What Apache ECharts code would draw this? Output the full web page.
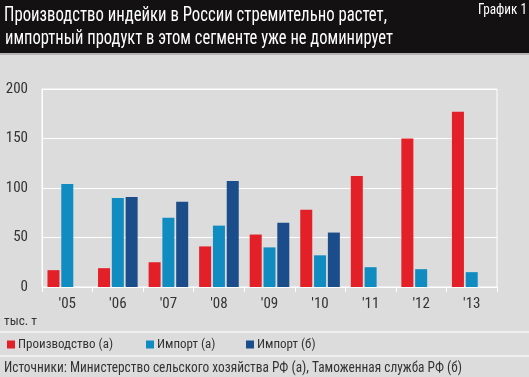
<!DOCTYPE html>
<html>
<head>
<meta charset="utf-8">
<script src="https://cdn.jsdelivr.net/npm/echarts@6/dist/echarts.min.js"></script>
<style>
  html, body { margin: 0; padding: 0; background: #dcdcdd; }
  #chart { width: 529px; height: 377px; }
</style>
</head>
<body>
<div id="chart"></div>
<script>
// данные графика (тыс. т)
var years = ["'05", "'06", "'07", "'08", "'09", "'10", "'11", "'12", "'13"];
var production = [17, 19, 25, 41, 53, 78, 112, 150, 177];
var importA = [104, 90, 70, 62, 40, 32, 20, 18, 15];
var importB = [null, 91, 86, 107, 65, 55, null, null, null];
var seriesNames = ['Производство (а)', 'Импорт (а)', 'Импорт (б)'];
var yTicks = [0, 50, 100, 150, 200];

var titleLines = [
  'Производство индейки в России стремительно растет,',
  'импортный продукт в этом сегменте уже не доминирует'
];
var sourceText = 'Источники: Министерство сельского хозяйства РФ (а), Таможенная служба РФ (б)';

var font = '"Roboto Condensed", "Roboto", sans-serif';
var colors = ['#e31f28', '#118cc0', '#1b4d8b'];

// сжатие текста по ширине (шрифт в оригинале уже, чем Roboto Condensed)
var measureCtx = document.createElement('canvas').getContext('2d');
function fitScale(text, size, width) {
  measureCtx.font = size + 'px "Roboto Condensed"';
  return width / measureCtx.measureText(text).width;
}
function label(text, x, y, size, width, color) {
  return {
    type: 'text',
    x: x,
    y: y,
    scaleX: fitScale(text, size, width),
    style: {
      text: text,
      x: 0,
      y: 0,
      fill: color,
      fontSize: size,
      fontFamily: font,
      verticalAlign: 'middle'
    }
  };
}

var myChart = echarts.init(document.getElementById('chart'));

var option = {
  backgroundColor: '#dcdcdd',
  color: colors,
  animation: false,
  textStyle: { fontFamily: font },
  graphic: [
    { type: 'rect', z: -1, shape: { x: 0, y: 0, width: 529, height: 53 }, style: { fill: '#131111' } },
    { type: 'rect', z: -1, shape: { x: 0, y: 53, width: 529, height: 2 }, style: { fill: '#b4b4b4' } },
    { type: 'rect', shape: { x: 0, y: 331, width: 529, height: 2 }, style: { fill: '#efefef' } },
    { type: 'rect', shape: { x: 0, y: 355, width: 529, height: 2 }, style: { fill: '#efefef' } },
    label(titleLines[0], 4, 16, 21, 383, '#ffffff'),
    label(titleLines[1], 5, 39, 21, 388, '#ffffff'),
    label('График 1', 478, 10, 14, 49, '#ffffff'),
    label('тыс. т', 4, 322, 13, 33, '#333333'),
    label(sourceText, 4, 368, 15, 458, '#333333')
  ],
  legend: [0, 1, 2].map(function (i) {
    var lefts = [2, 141, 241];
    return {
      data: [seriesNames[i]],
      left: lefts[i],
      top: 333,
      icon: 'rect',
      itemWidth: 8,
      itemHeight: 8,
      itemGap: 4,
      textStyle: { color: '#333', fontSize: 13, fontFamily: font, padding: [0, 0, 0, -2] }
    };
  }),
  grid: {
    left: 42,
    right: 32,
    top: 89,
    bottom: 90,
    show: true,
    borderColor: '#ffffff',
    borderWidth: 1
  },
  xAxis: {
    type: 'category',
    data: years,
    axisLine: { show: true, lineStyle: { color: '#fff', width: 1 } },
    axisTick: { show: true, length: 5, lineStyle: { color: '#fff' } },
    axisLabel: { color: '#333', fontSize: 15, margin: 10, fontFamily: font }
  },
  yAxis: {
    type: 'value',
    min: yTicks[0],
    max: yTicks[yTicks.length - 1],
    interval: 50,
    axisLine: { show: true, lineStyle: { color: '#fff' } },
    axisTick: { show: false },
    axisLabel: { color: '#333', fontSize: 15, margin: 14, fontFamily: font },
    splitLine: { show: true, lineStyle: { color: '#fff', width: 1 } }
  },
  series: [
    { name: seriesNames[0], type: 'bar', data: production, barWidth: 12, barGap: '15%' },
    { name: seriesNames[1], type: 'bar', data: importA, barWidth: 12, barGap: '15%' },
    { name: seriesNames[2], type: 'bar', data: importB, barWidth: 12, barGap: '15%' }
  ]
};

myChart.setOption(option);
</script>
</body>
</html>
